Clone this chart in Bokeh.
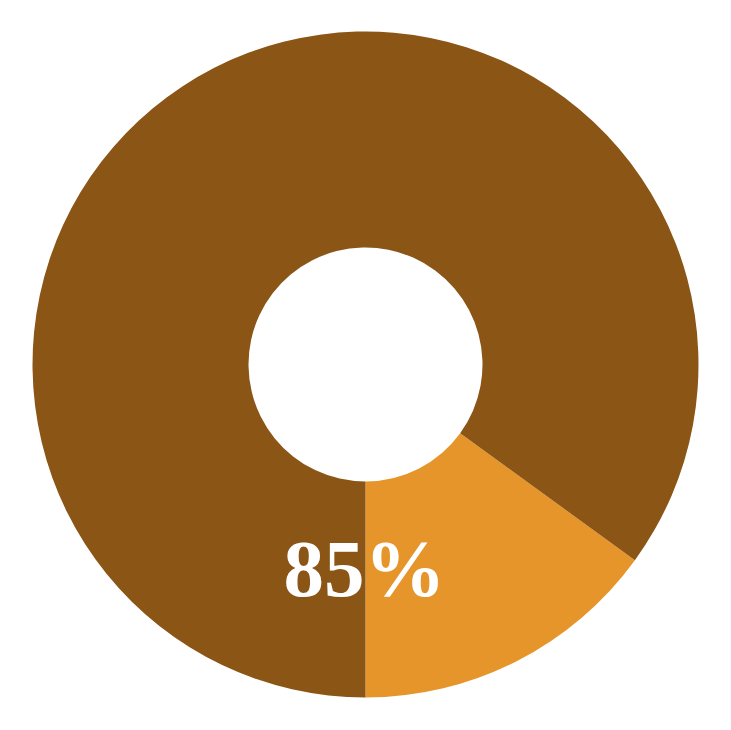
import numpy as np
from bokeh.plotting import figure
from bokeh.models import ColumnDataSource, Range1d
from bokeh.core.properties import value
from bokeh.embed import file_html
from bokeh.resources import INLINE

categories = ["Part", "Rest"]
values = [15, 85]
colors = ["#E6952B", "#8B5515"]
label_text = "85%"

total = sum(values)
start_deg = -90.0
angles = np.array(values) / total * 2 * np.pi
ends = np.radians(start_deg) + np.cumsum(angles)
starts = ends - angles

src = ColumnDataSource(dict(cat=categories, val=values, start=starts, end=ends, color=colors))

W, H = 731, 730
p = figure(width=W, height=H, output_backend="svg", toolbar_location=None,
           x_range=Range1d(-365, 366), y_range=Range1d(-366, 364),
           min_border=0, outline_line_color=None)
p.axis.visible = False
p.grid.visible = False
p.background_fill_color = "white"
p.border_fill_color = "white"

outer, inner = 333, 117
p.annular_wedge(x=0, y=0, inner_radius=inner, outer_radius=outer,
                start_angle="start", end_angle="end", color="color",
                line_color=None, source=src)

p.text(x=[-1], y=[-204], text=[label_text], text_color="white",
       text_font=value("'Liberation Serif', 'Times New Roman', Times, serif"),
       text_font_style="bold",
       text_font_size="81px", text_align="center", text_baseline="middle")

open("out.html", "w").write(file_html(p, INLINE))
